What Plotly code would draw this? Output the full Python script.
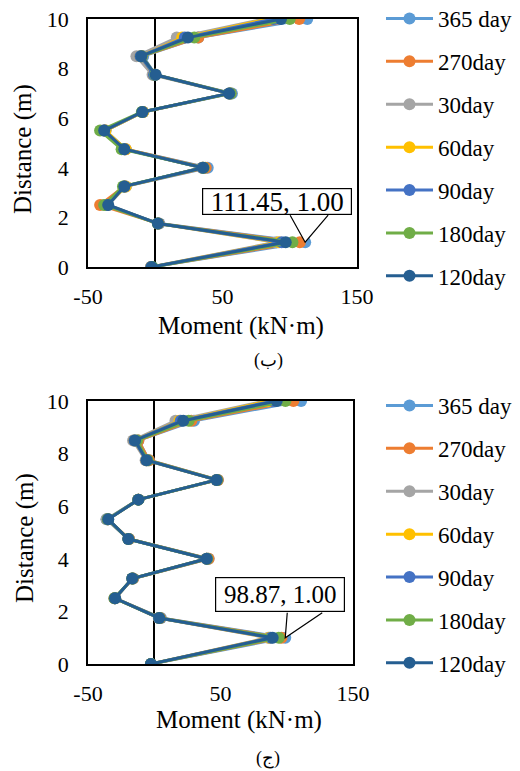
import plotly.graph_objects as go

W, H = 520, 771
OFF = 8  # page offset of the figure in the browser

depth = [0, 1, 1.75, 2.5, 3.25, 4, 4.75, 5.5, 6.25, 7, 7.75, 8.5, 9.25, 10]
series_names = ["365 day", "270day", "30day", "60day", "90day", "180day", "120day"]
colors = ["#5B9BD5", "#ED7D31", "#A5A5A5", "#FFC000", "#4472C4", "#70AD47", "#255E91"]

# chart (ب)
b_365 = [-3, 111.45, 3, -37, -22, 39, -22, -37, -9, 57, 0, -9, 32, 113]
b_270 = [-3, 107.5, 2.5, -41, -23, 37.5, -22, -38, -9.5, 56, 0, -10, 32, 107]
b_30 = [-3, 90, 2, -35, -22, 35, -23, -37, -9, 55, -2, -14, 16, 81]
b_60 = [-3, 92, 2, -36, -22, 35, -22, -37, -9, 55, -1, -11, 20, 84]
b_90 = [-3, 94, 2, -36, -23, 35, -23, -38, -9.5, 55, -1, -11, 22, 88]
b_180 = [-2, 102, 2, -38, -24, 36, -25, -41, -10, 56, 0, -10, 29, 100]
b_120 = [-2.6, 97, 2, -35, -23, 35.7, -23, -38, -9.6, 55, 0.3, -10.4, 24.3, 93.5]

# chart (ج)
j_365 = [-2.5, 98.87, 5, -30, -16, 41, -19, -36, -12, 48, -4, -12, 30, 110.8]
j_270 = [-2.5, 96, 4.5, -30, -16, 41, -19, -35, -12, 48, -4, -12, 28, 105]
j_30 = [-2.5, 86, 3.5, -29.5, -16.5, 39.5, -19.5, -36, -12, 47, -6.5, -16, 16, 83.6]
j_60 = [-2.5, 87, 3.5, -29.5, -16.5, 39.5, -19.5, -35, -12, 47, -6, -15, 19, 86]
j_90 = [-2.5, 88, 3.5, -29.5, -16.5, 39.5, -19.5, -35, -12, 47, -6, -15, 20, 90]
j_180 = [-2.5, 94, 4, -30, -16.5, 40, -19.5, -35, -12, 47.5, -5, -13, 26, 99]
j_120 = [-2.5, 89.4, 3.8, -29.6, -16.6, 39.6, -19.6, -34.7, -12, 47.1, -5.7, -14.5, 21.9, 92.4]

x_ticks = [-50, 50, 150]
x_ticktext = ["-50", "50", "150"]
y_ticks = [0, 2, 4, 6, 8, 10]

FONT = "Liberation Serif"
fig = go.Figure()

b_data = [b_365, b_270, b_30, b_60, b_90, b_180, b_120]
j_data = [j_365, j_270, j_30, j_60, j_90, j_180, j_120]

for name, col, vals in zip(series_names, colors, b_data):
    fig.add_trace(go.Scatter(x=vals, y=depth, mode="lines+markers", name=name,
                             line=dict(color=col, width=3), marker=dict(color=col, size=12),
                             legend="legend", legendgroup="b" + name, xaxis="x", yaxis="y"))
for name, col, vals in zip(series_names, colors, j_data):
    fig.add_trace(go.Scatter(x=vals, y=depth, mode="lines+markers", name=name,
                             line=dict(color=col, width=3), marker=dict(color=col, size=12),
                             legend="legend2", legendgroup="j" + name, xaxis="x2", yaxis="y2"))

def px_x(p):
    return (p - OFF) / W

def px_y(p):
    return 1 - (p - OFF) / H

tickfont = dict(family=FONT, size=22, color="black")
frame = dict(showgrid=False, showline=True, linecolor="black", linewidth=1.5,
             mirror=True, ticks="", tickfont=tickfont, automargin=False,
             ticklabeloverflow="allow")

legfont = dict(family=FONT, size=23, color="black")
fig.update_layout(
    width=W, height=H, margin=dict(l=0, r=0, t=0, b=0, autoexpand=False),
    paper_bgcolor="white", plot_bgcolor="white",
    font=dict(family=FONT, color="black"),
    xaxis=dict(domain=[px_x(88), px_x(357)], range=[-50, 150], tickvals=x_ticks,
               ticktext=x_ticktext, anchor="y", zeroline=True, zerolinecolor="black",
               zerolinewidth=1.5, ticklabelstandoff=9, **frame),
    yaxis=dict(domain=[px_y(267), px_y(19)], range=[0, 10], tickvals=y_ticks,
               anchor="x", zeroline=False, ticklabelstandoff=13, **frame),
    xaxis2=dict(domain=[px_x(88), px_x(353)], range=[-50, 150], tickvals=x_ticks,
                ticktext=x_ticktext, anchor="y2", zeroline=True, zerolinecolor="black",
                zerolinewidth=1.5, ticklabelstandoff=9, **frame),
    yaxis2=dict(domain=[px_y(664), px_y(401)], range=[0, 10], tickvals=y_ticks,
                anchor="x2", zeroline=False, ticklabelstandoff=13, **frame),
    legend=dict(x=px_x(381), y=px_y(-3), xanchor="left", yanchor="top", itemwidth=47,
                font=legfont, tracegroupgap=10, bgcolor="rgba(0,0,0,0)"),
    legend2=dict(x=px_x(381), y=px_y(384), xanchor="left", yanchor="top", itemwidth=47,
                 font=legfont, tracegroupgap=10, bgcolor="rgba(0,0,0,0)"),
    showlegend=True,
)

annots = []
def label(text, x, y, size=25, angle=0):
    annots.append(dict(text=text, x=px_x(x), y=px_y(y), xref="paper", yref="paper",
                       xanchor="center", yanchor="middle", showarrow=False, textangle=angle,
                       font=dict(family=FONT, size=size, color="black")))

label("Moment (kN·m)", 241, 326)
label("Moment (kN·m)", 239, 720)
label("Distance (m)", 23, 149, angle=-90)
label("Distance (m)", 25, 538, angle=-90)
label("(ب)", 268, 361, size=18)
label("(ج)", 268, 758, size=18)

# callouts
callouts = [
    ("x", "y", b_365[1], depth[1], -28, -41, 150, 27, 27, "M -15 27 L 0 0 L 23 27"),
    ("x2", "y2", j_365[1], depth[1], -5, -43, 130, 35, 25, "M 2 25 L 0 0 L 37 25"),
]
shapes = []
for xr, yr, xv, yv, dx, dy, bw, bh, fs, path in callouts:
    shapes.append(dict(type="path", xref=xr, yref=yr, xsizemode="pixel", ysizemode="pixel",
                       xanchor=xv, yanchor=yv, path=path, fillcolor="white",
                       line=dict(color="black", width=1.2)))
    annots.append(dict(text=f"{xv:.2f}, {yv:.2f}", x=xv, y=yv, xref=xr, yref=yr,
                       showarrow=False, xshift=dx, yshift=-dy, width=bw - 2, height=bh - 2,
                       bordercolor="black", borderwidth=1.2, bgcolor="white", borderpad=0,
                       font=dict(family=FONT, size=fs, color="black")))

fig.update_layout(annotations=annots, shapes=shapes)
fig.write_html("out.html")
